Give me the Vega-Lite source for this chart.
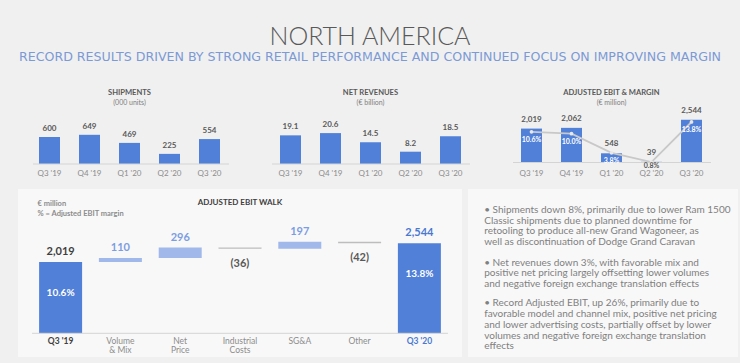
{
  "$schema": "https://vega.github.io/schema/vega-lite/v6.json",
  "background": "#f0f0f0",
  "padding": {"left": 18, "top": 24, "right": 2, "bottom": 6},
  "config": {"view": {"stroke": null}, "font": "Lato"},
  "title": {
    "text": "NORTH AMERICA",
    "subtitle": "RECORD RESULTS DRIVEN BY STRONG RETAIL PERFORMANCE AND CONTINUED FOCUS ON IMPROVING MARGIN",
    "anchor": "middle",
    "font": "Lato",
    "fontSize": 25,
    "fontWeight": 300,
    "color": "#595959",
    "subtitleFont": "DejaVu Sans",
    "subtitleFontSize": 12.6,
    "subtitleColor": "#7b9ad6",
    "subtitlePadding": 1,
    "offset": 26,
    "dx": -8
  },
  "spacing": 12,
  "vconcat": [
    {
      "bounds": "flush",
      "spacing": 18,
      "hconcat": [
        {
          "width": 223,
          "height": 62,
          "title": {"text": "SHIPMENTS", "subtitle": "(000 units)", "fontSize": 7.6, "fontWeight": "bold", "color": "#595959", "subtitleFontSize": 7, "subtitleColor": "#7f7f7f", "subtitlePadding": 2, "offset": -4, "anchor": "middle"},
          "data": {"values": [
            {"q": "Q3 '19", "v": 600},
            {"q": "Q4 '19", "v": 649},
            {"q": "Q1 '20", "v": 469},
            {"q": "Q2 '20", "v": 225},
            {"q": "Q3 '20", "v": 554}
          ]},
          "encoding": {"x": {"field": "q", "type": "nominal", "sort": null, "scale": {"paddingInner": 0.475, "paddingOuter": 0.525}, "axis": {"title": null, "domain": false, "ticks": false, "labelAngle": 0, "labelPadding": 5, "labelFontSize": 8, "labelColor": "#8c8c8c"}}},
          "layer": [
            {"mark": {"type": "bar", "color": "#5080d8"}, "encoding": {"y": {"field": "v", "type": "quantitative", "scale": {"domain": [0, 1378], "nice": false}, "axis": null}}},
            {"mark": {"type": "text", "baseline": "bottom", "dy": -4, "fontSize": 8, "fontWeight": "bold", "color": "#595959"}, "encoding": {"y": {"field": "v", "type": "quantitative"}, "text": {"field": "v", "type": "quantitative", "format": ","}}},
            {"data": {"values": [{}]}, "mark": {"type": "rule", "color": "#d4d4d4", "xOffset": -16.5, "x2Offset": 19.5}, "encoding": {"x": {"datum": "Q3 '19"}, "x2": {"datum": "Q3 '20"}, "y": {"datum": 0, "type": "quantitative"}}}
          ]
        },
        {
          "width": 223,
          "height": 62,
          "title": {"text": "NET REVENUES", "subtitle": "(€ billion)", "fontSize": 7.6, "fontWeight": "bold", "color": "#595959", "subtitleFontSize": 7, "subtitleColor": "#7f7f7f", "subtitlePadding": 2, "offset": -4, "anchor": "middle"},
          "data": {"values": [
            {"q": "Q3 '19", "v": 19.1},
            {"q": "Q4 '19", "v": 20.6},
            {"q": "Q1 '20", "v": 14.5},
            {"q": "Q2 '20", "v": 8.2},
            {"q": "Q3 '20", "v": 18.5}
          ]},
          "encoding": {"x": {"field": "q", "type": "nominal", "sort": null, "scale": {"paddingInner": 0.475, "paddingOuter": 0.525}, "axis": {"title": null, "domain": false, "ticks": false, "labelAngle": 0, "labelPadding": 5, "labelFontSize": 8, "labelColor": "#8c8c8c"}}},
          "layer": [
            {"mark": {"type": "bar", "color": "#5080d8"}, "encoding": {"y": {"field": "v", "type": "quantitative", "scale": {"domain": [0, 41.33], "nice": false}, "axis": null}}},
            {"mark": {"type": "text", "baseline": "bottom", "dy": -4, "fontSize": 8, "fontWeight": "bold", "color": "#595959"}, "encoding": {"y": {"field": "v", "type": "quantitative"}, "text": {"field": "v", "type": "quantitative", "format": ".1f"}}},
            {"data": {"values": [{}]}, "mark": {"type": "rule", "color": "#d4d4d4", "xOffset": -18.5, "x2Offset": 19.5}, "encoding": {"x": {"datum": "Q3 '19"}, "x2": {"datum": "Q3 '20"}, "y": {"datum": 0, "type": "quantitative"}}}
          ]
        },
        {
          "width": 223,
          "height": 60.5,
          "title": {"text": "ADJUSTED EBIT & MARGIN", "subtitle": "(€ million)", "fontSize": 7.6, "fontWeight": "bold", "color": "#595959", "subtitleFontSize": 7, "subtitleColor": "#7f7f7f", "subtitlePadding": 2, "offset": -4, "anchor": "middle"},
          "data": {"values": [
            {"q": "Q3 '19", "ebit": 2019, "m": 0.106},
            {"q": "Q4 '19", "ebit": 2062, "m": 0.100},
            {"q": "Q1 '20", "ebit": 548, "m": 0.038},
            {"q": "Q2 '20", "ebit": 39, "m": 0.008},
            {"q": "Q3 '20", "ebit": 2544, "m": 0.138}
          ]},
          "encoding": {"x": {"field": "q", "type": "nominal", "sort": null, "scale": {"paddingInner": 0.475, "paddingOuter": 0.525}, "axis": {"title": null, "domain": false, "ticks": false, "labelAngle": 0, "labelPadding": 6.5, "labelFontSize": 8, "labelColor": "#8c8c8c"}}},
          "resolve": {"scale": {"y": "independent"}},
          "layer": [
            {
              "layer": [
                {"mark": {"type": "bar", "color": "#5080d8"}, "encoding": {"y": {"field": "ebit", "type": "quantitative", "scale": {"domain": [0, 3601], "nice": false}, "axis": null}}},
                {"mark": {"type": "text", "baseline": "bottom", "dy": -5, "fontSize": 8, "fontWeight": "bold", "color": "#595959"}, "encoding": {"y": {"field": "ebit", "type": "quantitative"}, "text": {"field": "ebit", "type": "quantitative", "format": ","}}},
                {"data": {"values": [{}]}, "mark": {"type": "rule", "color": "#d4d4d4", "xOffset": -18.5, "x2Offset": 19.5}, "encoding": {"x": {"datum": "Q3 '19"}, "x2": {"datum": "Q3 '20"}, "y": {"datum": 0, "type": "quantitative"}}}
              ]
            },
            {
              "layer": [
                {"mark": {"type": "line", "color": "#c8c8c8", "strokeWidth": 1.8}, "encoding": {"y": {"field": "m", "type": "quantitative", "scale": {"domain": [0.0065, 0.2029], "nice": false, "zero": false}, "axis": null}}},
                {"mark": {"type": "point", "filled": true, "color": "#e8e8e8", "size": 14, "opacity": 1}, "encoding": {"y": {"field": "m", "type": "quantitative"}}},
                {"transform": [{"filter": "datum.m >= 0.01"}], "mark": {"type": "text", "baseline": "middle", "dy": 8.5, "fontSize": 7, "fontWeight": "bold", "color": "#ffffff"}, "encoding": {"y": {"field": "m", "type": "quantitative"}, "text": {"field": "m", "type": "quantitative", "format": ".1%"}}},
                {"transform": [{"filter": "datum.m < 0.01"}], "mark": {"type": "text", "baseline": "middle", "dy": 4, "fontSize": 7, "fontWeight": "bold", "color": "#595959"}, "encoding": {"y": {"field": "m", "type": "quantitative"}, "text": {"field": "m", "type": "quantitative", "format": ".1%"}}}
              ]
            }
          ]
        }
      ]
    },
    {
      "bounds": "flush",
      "spacing": 6,
      "hconcat": [
        {
          "width": 444,
          "height": 168,
          "view": {"fill": "#f8f8f8", "stroke": null},
          "title": {"text": "ADJUSTED EBIT WALK", "fontSize": 8, "fontWeight": "bold", "color": "#404040", "offset": -18, "anchor": "middle"},
          "data": {"values": [
            {"cat": "Q3 '19", "label": "Q3 '19", "kind": "start", "value": 2019, "lo": 0, "hi": 2019, "pct": "10.6%"},
            {"cat": "Volume & Mix", "label": "Volume\n& Mix", "kind": "up", "value": 110, "lo": 2019, "hi": 2129},
            {"cat": "Net Price", "label": "Net\nPrice", "kind": "up", "value": 296, "lo": 2129, "hi": 2425},
            {"cat": "Industrial Costs", "label": "Industrial\nCosts", "kind": "down", "value": -36, "lo": 2389, "hi": 2425},
            {"cat": "SG&A", "label": "SG&A", "kind": "up", "value": 197, "lo": 2389, "hi": 2586},
            {"cat": "Other", "label": "Other", "kind": "down", "value": -42, "lo": 2544, "hi": 2586},
            {"cat": "Q3 '20", "label": "Q3 '20", "kind": "end", "value": 2544, "lo": 0, "hi": 2544, "pct": "13.8%"}
          ]},
          "encoding": {"x": {"field": "cat", "type": "nominal", "sort": null, "axis": null, "scale": {"paddingInner": 0.281, "paddingOuter": 0.353}}},
          "resolve": {"scale": {"color": "independent"}},
          "layer": [
            {"mark": "bar", "encoding": {
              "y": {"field": "lo", "type": "quantitative", "scale": {"domain": [-670, 4080], "nice": false, "zero": false}, "axis": null},
              "y2": {"field": "hi"},
              "color": {"field": "kind", "type": "nominal", "scale": {"domain": ["start", "up", "down", "end"], "range": ["#5080d8", "#a0b8ea", "#bdbdbd", "#5080d8"]}, "legend": null}
            }},
            {"transform": [{"filter": "datum.value > 0"}], "mark": {"type": "text", "baseline": "bottom", "dy": -5, "fontSize": 11, "fontWeight": "bold"}, "encoding": {
              "y": {"field": "hi", "type": "quantitative"},
              "text": {"field": "value", "type": "quantitative", "format": "(,"},
              "color": {"field": "kind", "type": "nominal", "scale": {"domain": ["start", "up", "down", "end"], "range": ["#404040", "#7c9de3", "#595959", "#4a78d0"]}, "legend": null}
            }},
            {"transform": [{"filter": "datum.value < 0"}], "mark": {"type": "text", "baseline": "top", "dy": 9, "fontSize": 11, "fontWeight": "bold", "color": "#595959"}, "encoding": {
              "y": {"field": "lo", "type": "quantitative"},
              "text": {"field": "value", "type": "quantitative", "format": "(,"}
            }},
            {"transform": [{"filter": "isValid(datum.pct)"}], "mark": {"type": "text", "baseline": "middle", "dy": 31, "fontSize": 10, "fontWeight": "bold", "color": "#ffffff"}, "encoding": {
              "y": {"field": "hi", "type": "quantitative"},
              "text": {"field": "pct"}
            }},
            {"transform": [{"filter": "datum.kind == 'start' || datum.kind == 'end'"}], "mark": {"type": "text", "baseline": "top", "dy": 4, "fontSize": 8.5, "fontWeight": "bold", "lineBreak": "\n", "lineHeight": 8.5}, "encoding": {
              "y": {"datum": 0, "type": "quantitative"},
              "text": {"field": "label"},
              "color": {"field": "kind", "type": "nominal", "scale": {"domain": ["start", "end"], "range": ["#404040", "#4a78d0"]}, "legend": null}
            }},
            {"transform": [{"filter": "datum.kind == 'up' || datum.kind == 'down'"}], "mark": {"type": "text", "baseline": "top", "dy": 4, "fontSize": 8.5, "color": "#8c8c8c", "lineBreak": "\n", "lineHeight": 8.5}, "encoding": {
              "y": {"datum": 0, "type": "quantitative"},
              "text": {"field": "label"}
            }},
            {"data": {"values": [{}]}, "mark": {"type": "rule", "color": "#d4d4d4", "xOffset": -28.6, "x2Offset": 28.6}, "encoding": {"x": {"datum": "Q3 '19"}, "x2": {"datum": "Q3 '20"}, "y": {"datum": 0, "type": "quantitative"}}},
            {"data": {"values": [{"note": ["€ million", "% = Adjusted EBIT margin"]}]}, "mark": {"type": "text", "align": "left", "baseline": "middle", "dx": -23, "fontSize": 7.5, "fontWeight": "bold", "color": "#8c8c8c", "lineHeight": 10.5}, "encoding": {
              "x": {"datum": "Q3 '19"},
              "y": {"datum": 3656, "type": "quantitative"},
              "text": {"field": "note"}
            }}
          ]
        },
        {
          "width": 270,
          "height": 168,
          "view": {"fill": "#f8f8f8", "stroke": null},
          "mark": {"type": "text", "align": "left", "baseline": "middle", "fontSize": 10, "lineHeight": 10.7, "color": "#808080"},
          "layer": [
            {
              "data": {"values": [{"t": ["• Shipments down 8%, primarily due to lower Ram 1500", "Classic shipments due to planned downtime for", "retooling to produce all-new Grand Wagoneer, as", "well as discontinuation of Dodge Grand Caravan"]}]},
              "mark": {"type": "text", "align": "left", "baseline": "middle", "fontSize": 10, "lineHeight": 10.7, "color": "#808080"},
              "encoding": {
                "x": {"datum": 0.06, "type": "quantitative", "scale": {"domain": [0, 1]}, "axis": null},
                "y": {"datum": 0.875, "type": "quantitative", "scale": {"domain": [0, 1]}, "axis": null},
                "text": {"field": "t"}
              }
            },
            {
              "data": {"values": [{"t": ["• Net revenues down 3%, with favorable mix and", "positive net pricing largely offsetting lower volumes", "and negative foreign exchange translation effects"]}]},
              "mark": {"type": "text", "align": "left", "baseline": "middle", "fontSize": 10, "lineHeight": 10.7, "color": "#808080"},
              "encoding": {
                "x": {"datum": 0.06, "type": "quantitative"},
                "y": {"datum": 0.5625, "type": "quantitative"},
                "text": {"field": "t"}
              }
            },
            {
              "data": {"values": [{"t": ["• Record Adjusted EBIT, up 26%, primarily due to", "favorable model and channel mix, positive net pricing", "and lower advertising costs, partially offset by lower", "volumes and negative foreign exchange translation", "effects"]}]},
              "mark": {"type": "text", "align": "left", "baseline": "middle", "fontSize": 10, "lineHeight": 10.7, "color": "#808080"},
              "encoding": {
                "x": {"datum": 0.06, "type": "quantitative"},
                "y": {"datum": 0.3185, "type": "quantitative"},
                "text": {"field": "t"}
              }
            }
          ]
        }
      ]
    }
  ]
}
